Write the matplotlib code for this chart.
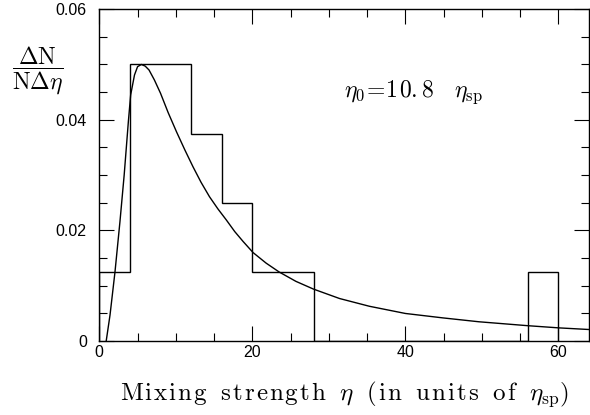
import numpy as np
import matplotlib
matplotlib.use('Agg')
import matplotlib.pyplot as plt
from matplotlib.ticker import MultipleLocator

plt.rcParams['font.family'] = 'Liberation Sans'
plt.rcParams['mathtext.fontset'] = 'cm'

# histogram: bin edges and heights
bin_edges = [0, 4, 8, 12, 16, 20, 24, 28, 32, 36, 40, 44, 48, 52, 56, 60]
bin_heights = [0.0125, 0.05, 0.05, 0.0375, 0.025, 0.0125, 0.0125,
               0, 0, 0, 0, 0, 0, 0, 0.0125]

# fitted curve
eta_curve = [0.9, 1.4, 2.05, 2.7, 3.25, 3.8, 4.1, 4.6, 5.0, 5.5, 6.0, 6.5, 7.2,
             8.0, 9.0, 10.1, 11.2, 12.25, 13.3, 14.4, 15.5, 16.6, 17.7, 18.8, 20.1,
             21.8, 23.5, 25.7, 28.0, 31.4, 35.3, 40.0, 44.9, 49.6, 55.9, 60.0, 64.0]
dens_curve = [0.0, 0.0047, 0.0125, 0.0216, 0.0300, 0.0397, 0.0445, 0.0481, 0.0496, 0.0500,
              0.0497, 0.0490, 0.0472, 0.0448, 0.0413, 0.0378, 0.0345, 0.0315, 0.0287,
              0.0261, 0.0239, 0.0219, 0.0198, 0.0180, 0.0160, 0.0141, 0.0125, 0.0108,
              0.0094, 0.0077, 0.0063, 0.0050, 0.0042, 0.0035, 0.0028, 0.0024, 0.0021]


def spaced(word, t=0.09):
    # wide letter spacing like the typeset original
    return (r'\hspace{%g}' % t).join(r'\mathrm{%s}' % c for c in word)


fig = plt.figure(figsize=(5.9, 4.15), dpi=100)
ax = fig.add_axes([0.1683, 0.178, 0.83, 0.80])

ax.stairs(bin_heights, bin_edges, color='k', lw=1.0)
ax.plot(eta_curve, dens_curve, color='k', lw=1.0)

ax.set_xlim(0, 64)
ax.set_ylim(0, 0.06)

ax.xaxis.set_major_locator(MultipleLocator(20))
ax.xaxis.set_minor_locator(MultipleLocator(5))
ax.yaxis.set_minor_locator(MultipleLocator(0.005))
ax.set_yticks([0, 0.02, 0.04, 0.06])
ax.set_yticklabels(['0', '0.02', '0.04', '0.06'])

ax.tick_params(which='both', direction='in', top=True, right=True, labelsize=11.5)
ax.tick_params(which='major', length=11, width=0.8)
ax.tick_params(which='minor', length=5.5, width=0.8)
ax.tick_params(axis='x', which='major', pad=3)
ax.tick_params(axis='y', which='major', pad=9)
for sp in ax.spines.values():
    sp.set_linewidth(1.0)

xl = (r'$' + spaced('Mixing') + r'\ \ ' + spaced('strength') + r'\ \ \eta\ \ '
      + spaced('(in') + r'\ \ ' + spaced('units') + r'\ \ ' + spaced('of')
      + r'\ \ \eta_{\mathrm{sp}})$')
ax.set_xlabel(xl, fontsize=18, labelpad=14)

fig.text(0.063, 0.83, r'$\dfrac{\Delta \mathrm{N}}{\mathrm{N}\Delta\eta}$',
         fontsize=17, ha='center', va='center')

ax.text(32, 0.045, r'$\eta_0\!=\!' + spaced('10', 0.1) + r'\mathrm{.8}'
        + r'\ \ \ \eta_{\mathrm{sp}}$',
        fontsize=17, ha='left', va='center')

plt.savefig('out.png', dpi=100)
